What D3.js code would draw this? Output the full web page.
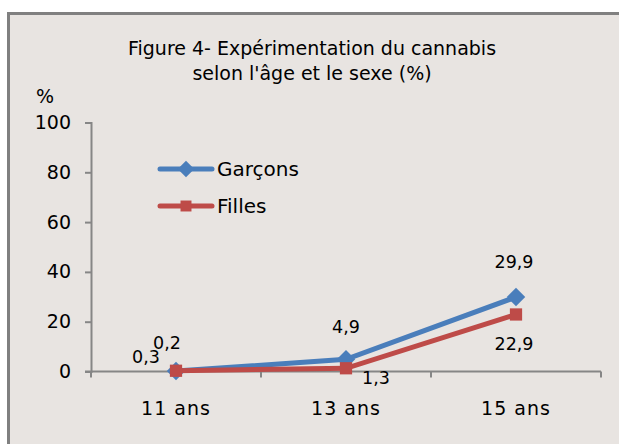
<!DOCTYPE html>
<html>
<head>
<meta charset="utf-8">
<script src="https://cdn.jsdelivr.net/npm/d3@7"></script>
<style>
body{margin:0;background:#fff;}
svg text{font-family:"DejaVu Sans",sans-serif;fill:#000;}
</style>
</head>
<body>
<script>
let categories = ["11 ans", "13 ans", "15 ans"]
let garcons = [0.2, 4.9, 29.9]
let filles = [0.3, 1.3, 22.9]
let yTicks = [0, 20, 40, 60, 80, 100]
let titleLines = ["Figure 4- Expérimentation du cannabis", "selon l'âge et le sexe (%)"]

let w = 619, h = 444
let svg = d3.select("body").append("svg").attr("width", w).attr("height", h)

// cadre gris
svg.append("rect").attr("x", 8.5).attr("y", 13.5).attr("width", w).attr("height", h)
    .attr("fill", "#e8e4e1").attr("stroke", "#808080").attr("stroke-width", 3)

let xScale = d3.scaleBand().domain(categories).range([91, 601])
let yScale = d3.scaleLinear().domain([0, 100]).range([371.5, 122.5])

let yAxis = d3.axisLeft(yScale).tickValues(yTicks).tickSize(6).tickPadding(14)
let gy = svg.append("g").attr("transform", "translate(91,0)").call(yAxis)
gy.selectAll("text").style("font-size", "19px")
gy.selectAll("path,line").attr("stroke", "#868686").attr("stroke-width", 2)

let xAxis = d3.axisBottom(xScale).tickSize(0).tickPadding(30)
let gx = svg.append("g").attr("transform", "translate(0,371.5)").call(xAxis)
gx.select("path").attr("d", "M85,0H601").attr("stroke", "#868686").attr("stroke-width", 2)
gx.selectAll("text").style("font-size", "19px").style("letter-spacing", "1px")
// petites graduations entre catégories
gx.selectAll(".sep").data(categories.concat(["end"])).enter().append("line")
    .attr("x1", (d, i) => 91 + i * xScale.bandwidth()).attr("x2", (d, i) => 91 + i * xScale.bandwidth())
    .attr("y1", 0).attr("y2", 6).attr("stroke", "#868686").attr("stroke-width", 2)

let cx = d => xScale(d) + xScale.bandwidth() / 2
let line = d3.line().x(d => cx(d.c)).y(d => yScale(d.v))

let series = [
    {name: "Garçons", values: garcons, color: "#4a7ebb", rot: 45, size: 170},
    {name: "Filles", values: filles, color: "#be4b48", rot: 0, size: 150}
]

series.forEach(s => {
    let pts = categories.map((c, i) => ({c: c, v: s.values[i]}))
    svg.append("path").datum(pts).attr("d", line)
        .attr("fill", "none").attr("stroke", s.color).attr("stroke-width", 5)
    svg.selectAll(null).data(pts).enter().append("path")
        .attr("d", d3.symbol().type(d3.symbolSquare).size(s.size))
        .attr("transform", d => `translate(${cx(d.c)},${yScale(d.v)}) rotate(${s.rot})`)
        .attr("fill", s.color)
})

// étiquettes de données
let labelOffsets = {
    "Garçons": [[-9, -22], [0, -26], [-2, -29]],
    "Filles": [[-30, -8], [30, 16], [-2, 36]]
}
series.forEach(s => {
    s.values.forEach((v, i) => {
        let o = labelOffsets[s.name][i]
        svg.append("text")
            .attr("x", cx(categories[i]) + o[0]).attr("y", yScale(v) + o[1])
            .attr("text-anchor", "middle").style("font-size", "17.5px")
            .text(String(v).replace(".", ","))
    })
})

// légende
series.forEach((s, i) => {
    let ly = 169 + i * 37
    svg.append("line").attr("x1", 160).attr("x2", 212).attr("y1", ly).attr("y2", ly)
        .attr("stroke", s.color).attr("stroke-width", 5).attr("stroke-linecap", "round")
    svg.append("path").attr("d", d3.symbol().type(d3.symbolSquare).size(s.size * 0.8))
        .attr("transform", `translate(186,${ly}) rotate(${s.rot})`).attr("fill", s.color)
    svg.append("text").attr("x", 217).attr("y", ly + 7).style("font-size", "20px").text(s.name)
})

// titre
svg.selectAll(".title").data(titleLines).enter().append("text")
    .attr("x", 312).attr("y", (d, i) => 55 + i * 25)
    .attr("text-anchor", "middle").style("font-size", "19px").text(d => d)

svg.append("text").attr("x", 45).attr("y", 103).attr("text-anchor", "middle")
    .style("font-size", "19px").text("%")
</script>
</body>
</html>
